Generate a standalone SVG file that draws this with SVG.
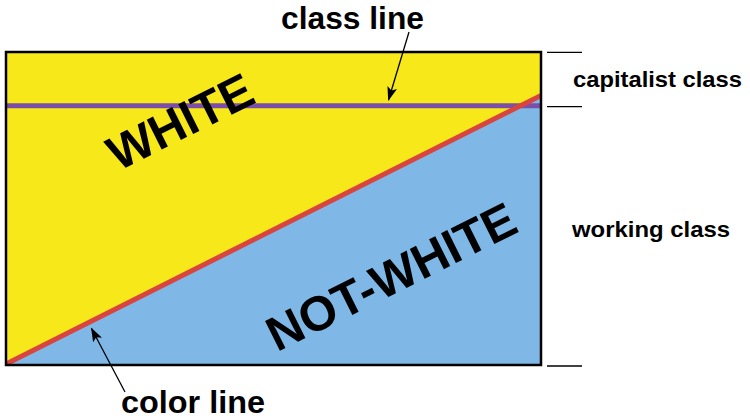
<svg xmlns="http://www.w3.org/2000/svg" width="750" height="419" viewBox="0 0 750 419">
  <style>
    .lbl { font-family: "Liberation Sans", Arial, Helvetica, sans-serif; font-weight: bold; fill: #000; }
    .big { font-size: 48.5px; }
    .side { font-size: 22px; }
    .cap { font-size: 32px; }
    .tick { stroke: #000; stroke-width: 1.3; }
    .arrow { stroke: #000; stroke-width: 1.3; fill: none; marker-end: url(#ah); }
  </style>
  <defs>
    <marker id="ah" markerUnits="userSpaceOnUse" markerWidth="14" markerHeight="10" refX="13" refY="5" orient="auto">
      <path d="M0,0 L14,5 L0,10 L3,5 Z" fill="#000"/>
    </marker>
    <clipPath id="box">
      <rect x="6" y="52" width="535" height="313"/>
    </clipPath>
  </defs>

  <g id="field">
    <rect x="6" y="52" width="535" height="313" fill="#F7E81A"/>
    <polygon points="6,364 541,95.5 541,365 6,365" fill="#7FB8E6"/>
    <g clip-path="url(#box)">
      <line x1="6" y1="105.8" x2="541" y2="105.8" stroke="#7B4FA8" stroke-width="5"/>
      <line x1="2" y1="366" x2="545" y2="93.5" stroke="#D9443E" stroke-width="5"/>
    </g>
    <rect x="6" y="52" width="535" height="313" fill="none" stroke="#000" stroke-width="2.5"/>
  </g>

  <g id="white-label">
    <text class="lbl big" text-anchor="middle" transform="translate(180,121) rotate(-26.5)" x="0" y="17.5">WHITE</text>
  </g>
  <g id="notwhite-label">
    <text class="lbl big" text-anchor="middle" transform="translate(391,276) rotate(-26.5)" x="0" y="17.5">NOT-WHITE</text>
  </g>

  <g id="ticks">
    <line class="tick" x1="547" y1="52.3" x2="582" y2="52.3"/>
    <line class="tick" x1="547" y1="106.7" x2="582" y2="106.7"/>
    <line class="tick" x1="547" y1="366" x2="582" y2="366"/>
  </g>

  <g id="capitalist-class">
    <text class="lbl side" x="573" y="87" textLength="169" lengthAdjust="spacingAndGlyphs">capitalist class</text>
  </g>
  <g id="working-class">
    <text class="lbl side" x="572" y="237" textLength="158" lengthAdjust="spacingAndGlyphs">working class</text>
  </g>
  <g id="class-line">
    <text class="lbl cap" x="281" y="29" textLength="143" lengthAdjust="spacingAndGlyphs">class line</text>
  </g>
  <g id="color-line">
    <text class="lbl cap" x="121" y="413" textLength="144" lengthAdjust="spacingAndGlyphs">color line</text>
  </g>

  <g id="connectors">
    <line class="arrow" x1="409" y1="32" x2="388.5" y2="100"/>
    <line class="arrow" x1="125" y1="392" x2="91.5" y2="328.5"/>
  </g>
</svg>
